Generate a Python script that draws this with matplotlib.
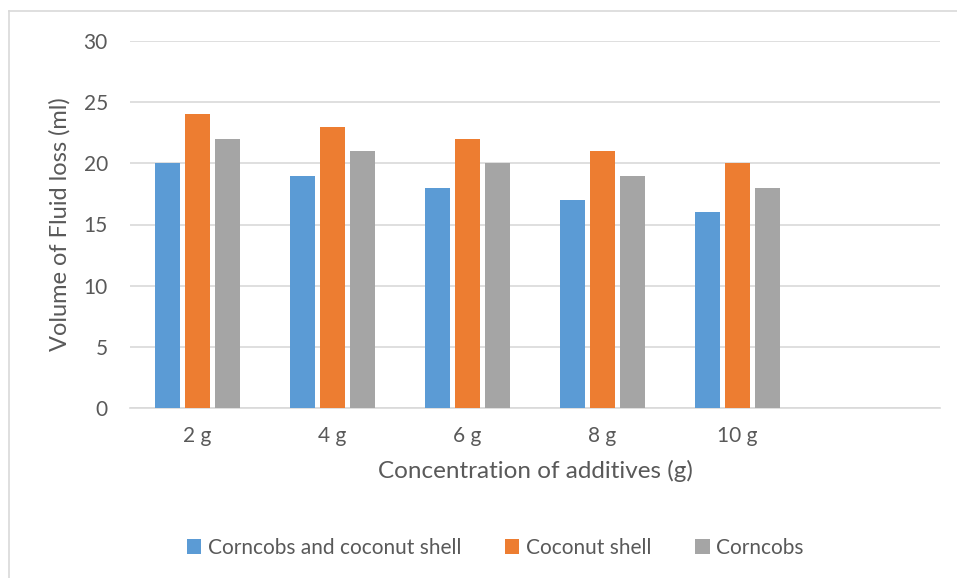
import matplotlib
matplotlib.use("Agg")
import matplotlib.pyplot as plt
import numpy as np
from matplotlib.patches import Patch
from matplotlib.lines import Line2D

categories = ["2 g", "4 g", "6 g", "8 g", "10 g", ""]
series_names = ["Corncobs and coconut shell", "Coconut shell", "Corncobs"]
corncobs_coconut = [20, 19, 18, 17, 16]
coconut_shell = [24, 23, 22, 21, 20]
corncobs = [22, 21, 20, 19, 18]
colors = ["#5b9bd5", "#ed7d31", "#a5a5a5"]

plt.rcParams['font.family'] = ['Lato', 'DejaVu Sans']
fig = plt.figure(figsize=(9.57, 5.78), dpi=100)
W, H = 957, 578
ax = fig.add_axes([130 / W, (H - 408) / H, (940 - 130) / W, (408 - 41) / H])

x = np.arange(len(categories))
bw = 0.185
off = 0.222
for i, vals in enumerate([corncobs_coconut, coconut_shell, corncobs]):
    ax.bar(x[:len(vals)] + (i - 1) * off, vals, width=bw, color=colors[i],
           label=series_names[i], zorder=3)

ax.set_xlim(-0.5, len(categories) - 0.5)
ax.set_ylim(0, 30)
ax.set_yticks(range(0, 31, 5))
ax.set_xticks(x)
ax.set_xticklabels(categories)
ax.grid(axis='y', color='#d9d9d9', linewidth=1.2, zorder=0)
for s in ['top', 'right', 'left']:
    ax.spines[s].set_visible(False)
ax.spines['bottom'].set_color('#d9d9d9')
ax.spines['bottom'].set_linewidth(1.2)
ax.tick_params(axis='both', length=0, labelsize=15, colors='#595959')
ax.tick_params(axis='y', pad=16)
ax.tick_params(axis='x', pad=13)
ax.set_xlabel("Concentration of additives (g)", fontsize=17.5, color='#595959', labelpad=10)
ax.set_ylabel("Volume of Fluid loss (ml)", fontsize=17, color='#595959', labelpad=9)

handles = [Patch(facecolor=c, edgecolor='none') for c in colors]
fig.legend(handles, series_names, loc='center', bbox_to_anchor=(495 / W, (H - 548) / H),
           ncol=3, frameon=False, fontsize=15, labelcolor='#595959',
           handlelength=0.7, handleheight=0.7, handletextpad=0.3, columnspacing=2.1)

# outer chart frame lines
fig.add_artist(Line2D([9 / W, 9 / W], [0, (H - 11) / H], color='#d9d9d9', lw=1.2))
fig.add_artist(Line2D([9 / W, 1], [(H - 11) / H, (H - 11) / H], color='#d9d9d9', lw=1.2))

fig.savefig("out.png", dpi=100, facecolor='white')
